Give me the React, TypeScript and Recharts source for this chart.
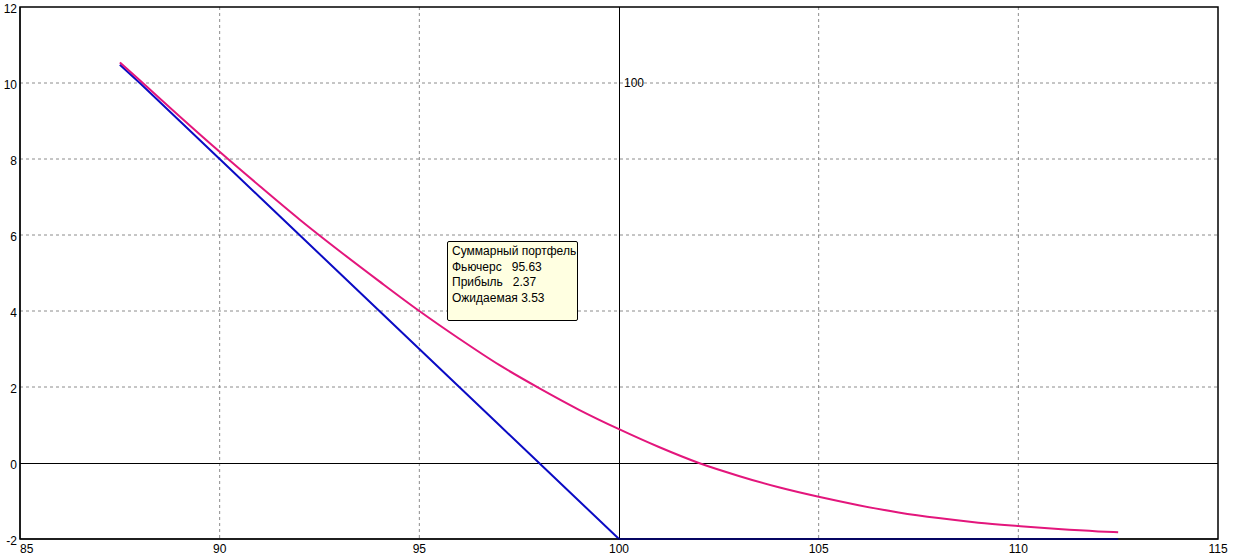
import {
  LineChart, Line, XAxis, YAxis, CartesianGrid, ReferenceLine, ReferenceArea, ReferenceDot,
} from 'recharts'

// price of the underlying (x axis)
const prices = [87.5, 88, 89, 90, 91, 92, 93, 94, 95, 96, 97, 98, 99, 100, 101, 102, 103, 104, 105, 106, 107, 108, 109, 110, 111, 112, 112.5]
// profit at expiry (blue)
const profit = [10.48, 10, 9, 8, 7, 6, 5, 4, 3, 2, 1, 0, -1, -2, -2, -2, -2, -2, -2, -2, -2, -2, -2, -2, -2, -2, -2]
// expected profit (pink)
const expected = [10.54, 10.07, 9.12, 8.19, 7.29, 6.41, 5.58, 4.78, 4.0, 3.27, 2.58, 1.97, 1.4, 0.89, 0.42, 0.0, -0.34, -0.64, -0.89, -1.11, -1.3, -1.45, -1.57, -1.66, -1.74, -1.8, -1.82]

const xTicks = [85, 90, 95, 100, 105, 110, 115]
const yTicks = [-2, 0, 2, 4, 6, 8, 10, 12]
// dashed grid only where there is no solid line
const gridX = [90, 95, 105, 110]
const gridY = [2, 4, 6, 8, 10]

const tooltipTitle = 'Суммарный портфель'
const tooltipRows = ['Фьючерс   95.63', 'Прибыль   2.37', 'Ожидаемая 3.53']

const data = prices.map((x, i) => ({ x, profit: profit[i], expected: expected[i] }))

const FONT = '"Liberation Sans", Arial, sans-serif'

function XTick(props: any) {
  const { x, y, payload, index } = props
  const anchor = index === 0 ? 'start' : 'middle'
  return (
    <text x={x} y={y} dy={12} textAnchor={anchor} fontSize={12} fontFamily={FONT} fill="#000">
      {payload.value}
    </text>
  )
}

function YTick(props: any) {
  const { x, y, payload } = props
  return (
    <text x={x} y={y} dy={6} textAnchor="end" fontSize={12} fontFamily={FONT} fill="#000">
      {payload.value}
    </text>
  )
}

export default function App() {
  return (
    <div style={{ position: 'fixed', left: 0, top: 0, width: 1238, height: 558, background: '#fff', fontFamily: FONT }}>
      <LineChart width={1238} height={558} data={data} margin={{ top: 7, right: 20, bottom: 0, left: 0 }}>
        <CartesianGrid stroke="#8c8c8c" strokeDasharray="3 3" horizontalValues={gridY} verticalValues={gridX} />
        <XAxis
          dataKey="x" type="number" domain={[85, 115]} ticks={xTicks} height={19}
          axisLine={{ stroke: '#000' }} tickLine={false} tickSize={0} tick={<XTick />} interval={0}
        />
        <YAxis
          type="number" domain={[-2, 12]} ticks={yTicks} width={20} interval={0}
          axisLine={{ stroke: '#000' }} tickLine={false} tickSize={0} tickMargin={3}
          tick={<YTick />}
        />
        <ReferenceArea x1={85} x2={115} y1={-2} y2={12} fill="none" stroke="#000" strokeWidth={1.5} />
        <ReferenceLine y={0} stroke="#000" strokeWidth={1} shapeRendering="crispEdges" />
        <ReferenceLine x={100} stroke="#000" strokeWidth={1} shapeRendering="crispEdges" />
        <ReferenceDot
          x={100} y={10} r={0} fill="none" stroke="none"
          label={{ value: '100', position: 'right', offset: 5, fontSize: 12, fill: '#000', fontFamily: FONT }}
        />
        <Line dataKey="profit" type="linear" stroke="#0b0bc4" strokeWidth={2} dot={false} isAnimationActive={false} />
        <Line dataKey="expected" type="monotone" stroke="#e3167c" strokeWidth={2} dot={false} isAnimationActive={false} />
      </LineChart>
      <div style={{
        position: 'absolute', left: 447, top: 241, width: 131, height: 80,
        background: '#ffffe1', border: '1px solid #000', borderRadius: 2,
        padding: '2px 0 0 4px', boxSizing: 'border-box', fontSize: 12, lineHeight: '15.5px',
        whiteSpace: 'pre', color: '#000',
      }}>
        <div>{tooltipTitle}</div>
        {tooltipRows.map((r) => <div key={r}>{r}</div>)}
      </div>
    </div>
  )
}
